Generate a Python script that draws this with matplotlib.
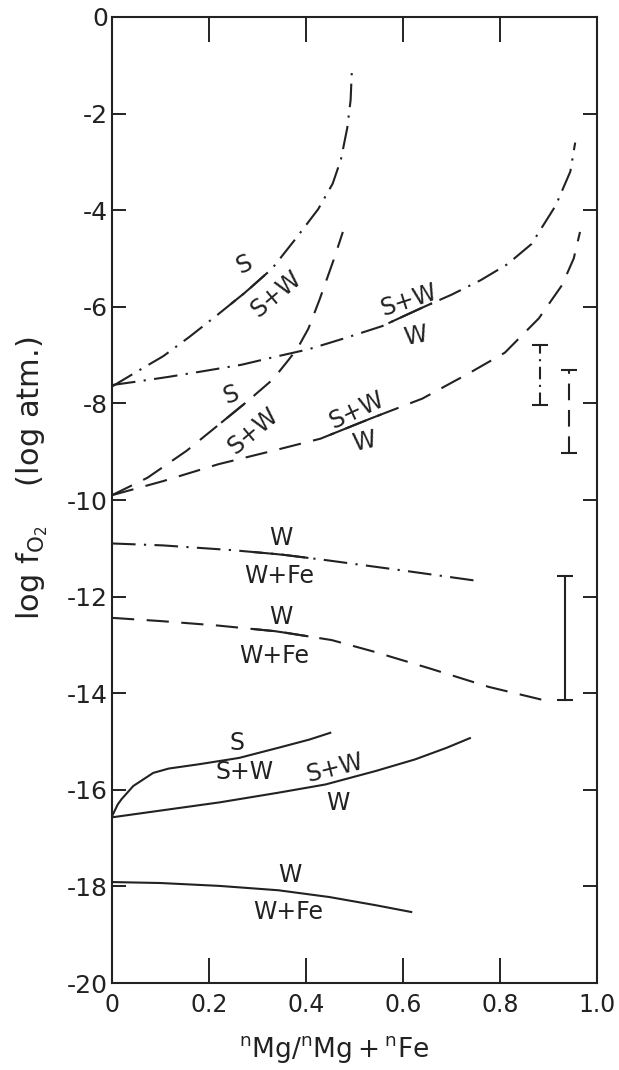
import numpy as np
import matplotlib
matplotlib.use("Agg")
import matplotlib.pyplot as plt

plt.rcParams['font.family'] = ['DejaVu Sans']
plt.rcParams['mathtext.fontset'] = 'dejavusans'
plt.rcParams['axes.unicode_minus'] = False
plt.rcParams['lines.scale_dashes'] = False

# ---------------- data (x = nMg/(nMg+nFe), y = log fO2) ----------------
# dash-dot curves
A_x = [0.0, 0.05, 0.106, 0.16, 0.217, 0.275, 0.33, 0.378, 0.425, 0.455, 0.472, 0.485, 0.492, 0.495]
A_y = [-7.65, -7.35, -7.02, -6.62, -6.17, -5.70, -5.21, -4.60, -3.98, -3.45, -2.95, -2.30, -1.72, -1.0]

B_x = [0.0, 0.05, 0.117, 0.19, 0.267, 0.33, 0.405, 0.48, 0.557, 0.60, 0.65, 0.70, 0.76, 0.815, 0.865, 0.915, 0.945, 0.955]
B_y = [-7.62, -7.55, -7.45, -7.33, -7.20, -7.05, -6.88, -6.65, -6.40, -6.20, -5.97, -5.75, -5.45, -5.12, -4.70, -3.90, -3.20, -2.60]

E_x = [0.0, 0.105, 0.25, 0.35, 0.445, 0.60, 0.75]
E_y = [-10.9, -10.94, -11.04, -11.13, -11.25, -11.46, -11.67]

# dashed curves
C_x = [0.0, 0.073, 0.154, 0.219, 0.28, 0.332, 0.364, 0.383, 0.405, 0.428, 0.458, 0.476]
C_y = [-9.9, -9.54, -8.98, -8.45, -7.95, -7.50, -7.10, -6.85, -6.45, -5.85, -5.00, -4.45]

D_x = [0.0, 0.105, 0.219, 0.332, 0.43, 0.534, 0.64, 0.737, 0.81, 0.88, 0.928, 0.952, 0.965]
D_y = [-9.9, -9.61, -9.26, -8.98, -8.73, -8.31, -7.90, -7.37, -6.95, -6.24, -5.55, -5.00, -4.45]

F_x = [0.0, 0.105, 0.219, 0.34, 0.453, 0.54, 0.656, 0.777, 0.905]
F_y = [-12.44, -12.51, -12.60, -12.72, -12.90, -13.14, -13.49, -13.87, -14.18]

# solid curves
G_x = [0.0, 0.012, 0.02, 0.044, 0.085, 0.117, 0.18, 0.262, 0.343, 0.407, 0.45]
G_y = [-16.55, -16.30, -16.19, -15.92, -15.65, -15.56, -15.47, -15.34, -15.13, -14.96, -14.82]

H_x = [0.0, 0.1, 0.222, 0.343, 0.44, 0.544, 0.625, 0.69, 0.738]
H_y = [-16.57, -16.43, -16.26, -16.06, -15.89, -15.61, -15.37, -15.13, -14.93]

I_x = [0.0, 0.1, 0.222, 0.343, 0.448, 0.544, 0.617]
I_y = [-17.91, -17.93, -17.99, -18.08, -18.22, -18.39, -18.53]

# uncertainty bars (x, low, high)
bar_x = [0.883, 0.943, 0.935]
bar_lo = [-8.03, -9.02, -14.14]
bar_hi = [-6.79, -7.30, -11.57]
bar_style = ['dashdot', 'dashed', 'solid']

x_ticks = [0.0, 0.2, 0.4, 0.6, 0.8, 1.0]
x_ticklabels = ['0', '0.2', '0.4', '0.6', '0.8', '1.0']
y_ticks = list(range(0, -21, -2))
y_ticklabels = ['0'] + ['-%d' % v for v in range(2, 21, 2)]

# ---------------- styles ----------------
DASHDOT = (0, (17, 6, 1.6, 6))
DASHED = (0, (16, 9))
LW = 1.5
COL = '#222222'

W_PX, H_PX = 619, 1070
L, R, T, B = 112, 597, 17, 983
fig = plt.figure(figsize=(W_PX / 100, H_PX / 100), dpi=100)
ax = fig.add_axes([L / W_PX, 1 - B / H_PX, (R - L) / W_PX, (B - T) / H_PX])

for xs, ys in [(A_x, A_y), (B_x, B_y), (E_x, E_y)]:
    ax.plot(xs, ys, color=COL, lw=LW, ls=DASHDOT, dash_capstyle='butt')
for xs, ys in [(C_x, C_y), (D_x, D_y), (F_x, F_y)]:
    ax.plot(xs, ys, color=COL, lw=LW, ls=DASHED, dash_capstyle='butt')
for xs, ys in [(G_x, G_y), (H_x, H_y), (I_x, I_y)]:
    ax.plot(xs, ys, color=COL, lw=LW, ls='-')

# uncertainty bars
for bx, lo, hi, st in zip(bar_x, bar_lo, bar_hi, bar_style):
    ls = {'dashdot': (0, (9, 4, 1.5, 4)), 'dashed': (0, (12, 7)), 'solid': '-'}[st]
    ax.plot([bx, bx], [lo, hi], color=COL, lw=LW, ls=ls)
    ax.plot([bx, bx], [lo, hi], color=COL, ls='none', marker='_', ms=12, mew=LW)

# fraction bars (solid segments along the curve between the phase labels)
def frac_bar(xs, ys, x0, x1):
    seg_x = np.linspace(x0, x1, 6)
    ax.plot(seg_x, np.interp(seg_x, xs, ys), color=COL, lw=LW, solid_capstyle='butt')

frac_bar(A_x, A_y, 0.245, 0.315)
frac_bar(B_x, B_y, 0.57, 0.66)
frac_bar(C_x, C_y, 0.225, 0.275)
frac_bar(D_x, D_y, 0.45, 0.555)
frac_bar(E_x, E_y, 0.29, 0.405)
frac_bar(F_x, F_y, 0.29, 0.405)

FS = 17
def lab(x, y, s, rot=0):
    ax.text(x, y, s, fontsize=FS, ha='center', va='center', rotation=rot,
            rotation_mode='anchor', color=COL)

lab(0.272, -5.12, 'S', 25)
lab(0.338, -5.74, 'S+W', 40)
lab(0.612, -5.86, 'S+W', 18)
lab(0.625, -6.60, 'W', 10)
lab(0.245, -7.82, 'S', 20)
lab(0.292, -8.58, 'S+W', 40)
lab(0.505, -8.15, 'S+W', 25)
lab(0.52, -8.80, 'W', 12)
lab(0.348, -10.78, 'W')
lab(0.344, -11.57, 'W+Fe')
lab(0.348, -12.43, 'W')
lab(0.335, -13.22, 'W+Fe')
lab(0.258, -15.04, 'S')
lab(0.274, -15.64, 'S+W')
lab(0.46, -15.56, 'S+W', 14)
lab(0.466, -16.28, 'W')
lab(0.367, -17.76, 'W')
lab(0.363, -18.54, 'W+Fe')

ax.set_xlim(0, 1.0)
ax.set_ylim(-20, 0)
ax.set_xticks(x_ticks)
ax.set_xticklabels(x_ticklabels)
ax.set_yticks(y_ticks)
ax.set_yticklabels(y_ticklabels)
ax.tick_params(axis='x', direction='in', top=True, bottom=True, length=18, width=1.4,
               labelsize=17, pad=7, colors=COL)
ax.tick_params(axis='y', direction='in', left=True, right=True, length=10, width=1.4,
               labelsize=18, pad=3, colors=COL)
for sp in ax.spines.values():
    sp.set_linewidth(1.5)
    sp.set_color(COL)

fig.text(0.052, 0.553, r'log f$_{\mathrm{O}_2}$    (log atm.)', rotation=90,
         ha='center', va='center', fontsize=22, color=COL)
fig.text(0.54, 0.019, r'$^{\mathrm{n}}\mathrm{Mg}/^{\mathrm{n}}\mathrm{Mg}+^{\mathrm{n}}\mathrm{Fe}$',
         ha='center', va='center', fontsize=19, color=COL)

fig.savefig('out.png', dpi=100, facecolor='white')
